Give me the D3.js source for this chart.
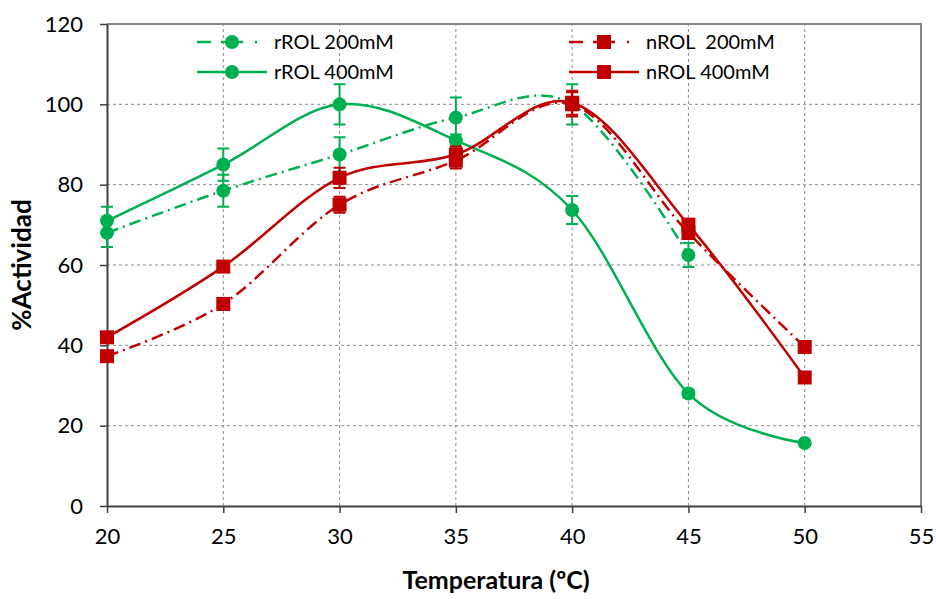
<!DOCTYPE html>
<html>
<head>
<meta charset="utf-8">
<script src="https://cdn.jsdelivr.net/npm/d3@7"></script>
<style>
  body { margin: 0; background: #fff; }
  text { font-family: Lato, "Open Sans", sans-serif; fill: #000; }
</style>
</head>
<body>
<svg id="chart"></svg>
<script>
const width = 936;
const height = 599;

// datos
const temps = [20, 25, 30, 35, 40, 45, 50];
const rROL200 = [68, 78.5, 87.5, 96.7, 100, 62.5];
const rROL200Err = [3.5, 4, 4.3, 5, 5, 3];
const rROL400 = [71, 85, 100, 91, 73.7, 28, 15.7];
const rROL400Err = [3.5, 4, 5, 1.5, 3.5, 1, 0.5];
const nROL200 = [37.3, 50.3, 75, 86, 100, 68, 39.6];
const nROL200Err = [0.5, 0.5, 2, 2, 3, 1.5, 0.5];
const nROL400 = [42, 59.6, 81.7, 87.5, 100.4, 70, 32];
const nROL400Err = [0.5, 1, 2.5, 2, 3, 1.5, 0.5];
const xTicks = [20, 25, 30, 35, 40, 45, 50, 55];
const yTicks = [0, 20, 40, 60, 80, 100, 120];

const green = "#00B050";
const red = "#C00000";
const dashDot = "12,5,2,5";

const series = [
  { name: "rROL 200mM", values: rROL200, err: rROL200Err, color: green, marker: "circle", dash: dashDot },
  { name: "nROL  200mM", values: nROL200, err: nROL200Err, color: red, marker: "square", dash: dashDot },
  { name: "rROL 400mM", values: rROL400, err: rROL400Err, color: green, marker: "circle", dash: null },
  { name: "nROL 400mM", values: nROL400, err: nROL400Err, color: red, marker: "square", dash: null }
];

const margin = { left: 107, right: 15, top: 24, bottom: 93 };

const svg = d3.select("#chart").attr("width", width).attr("height", height);

const x = d3.scaleLinear().domain([20, 55]).range([margin.left, width - margin.right]);
const y = d3.scaleLinear().domain([0, 120]).range([height - margin.bottom, margin.top]);

// rejilla
svg.append("g")
  .selectAll("line")
  .data(xTicks.slice(1, -1))
  .enter()
  .append("line")
  .attr("x1", d => x(d)).attr("x2", d => x(d))
  .attr("y1", y(0)).attr("y2", y(120))
  .attr("stroke", "#8c8c8c")
  .attr("stroke-width", 1)
  .attr("stroke-dasharray", "3,3");

svg.append("g")
  .selectAll("line")
  .data(yTicks.slice(1, -1))
  .enter()
  .append("line")
  .attr("x1", x(20)).attr("x2", x(55))
  .attr("y1", d => y(d)).attr("y2", d => y(d))
  .attr("stroke", "#8c8c8c")
  .attr("stroke-width", 1)
  .attr("stroke-dasharray", "3,3");

// borde superior y derecho
svg.append("path")
  .attr("d", `M${x(20)},${y(120)}H${x(55)}V${y(0)}`)
  .attr("fill", "none")
  .attr("stroke", "#868686")
  .attr("stroke-width", 2);

// ejes
const xAxis = svg.append("g")
  .attr("transform", `translate(0,${y(0)})`)
  .call(d3.axisBottom(x).tickValues(xTicks).tickSize(7).tickPadding(15).tickSizeOuter(0));
const yAxis = svg.append("g")
  .attr("transform", `translate(${x(20)},0)`)
  .call(d3.axisLeft(y).tickValues(yTicks).tickSize(7).tickPadding(17).tickSizeOuter(0));

[xAxis, yAxis].forEach(a => {
  a.select(".domain").attr("stroke", "#404040").attr("stroke-width", 2);
  a.selectAll(".tick line").attr("stroke", "#404040").attr("stroke-width", 1.5);
  a.selectAll(".tick text").style("font-size", "22px").style("font-family", "Lato, sans-serif").attr("fill", "#000");
});

// títulos
svg.append("text")
  .attr("x", 496)
  .attr("y", 589)
  .attr("text-anchor", "middle")
  .style("font-size", "25px")
  .style("font-weight", "bold")
  .text("Temperatura (ºC)");

svg.append("text")
  .attr("transform", `translate(31,${(y(0) + y(120)) / 2}) rotate(-90)`)
  .attr("text-anchor", "middle")
  .style("font-size", "26px")
  .style("font-weight", "bold")
  .text("%Actividad");

const line = d3.line()
  .x(d => x(d.t))
  .y(d => y(d.v))
  .curve(d3.curveCardinal.tension(0));

function drawMarker(g, type, color, cx, cy) {
  if (type === "circle") {
    g.append("circle").attr("cx", cx).attr("cy", cy).attr("r", 7).attr("fill", color);
  } else {
    g.append("rect").attr("x", cx - 7).attr("y", cy - 7).attr("width", 14).attr("height", 14).attr("fill", color);
  }
}

series.forEach(s => {
  const pts = s.values.map((v, i) => ({ t: temps[i], v: v, e: s.err[i] }));
  const g = svg.append("g");

  g.append("path")
    .datum(pts)
    .attr("d", line)
    .attr("fill", "none")
    .attr("stroke", s.color)
    .attr("stroke-width", 2.5)
    .attr("stroke-dasharray", s.dash);

  // barras de error
  pts.forEach(p => {
    const xe = x(p.t);
    g.append("path")
      .attr("d", `M${xe},${y(p.v + p.e)}V${y(p.v - p.e)}M${xe - 6},${y(p.v + p.e)}H${xe + 6}M${xe - 6},${y(p.v - p.e)}H${xe + 6}`)
      .attr("fill", "none")
      .attr("stroke", s.color)
      .attr("stroke-width", 2);
    drawMarker(g, s.marker, s.color, xe, y(p.v));
  });
});

// leyenda
const legendPos = [
  { lx: 197, ly: 42 },
  { lx: 569, ly: 42 },
  { lx: 197, ly: 72 },
  { lx: 569, ly: 72 }
];

series.forEach((s, i) => {
  const p = legendPos[i];
  const lg = svg.append("g");
  if (s.dash) {
    lg.append("path")
      .attr("d", `M${p.lx},${p.ly}h14M${p.lx + 24},${p.ly}h22M${p.lx + 58},${p.ly}h2`)
      .attr("stroke", s.color).attr("stroke-width", 2.5);
  } else {
    lg.append("line")
      .attr("x1", p.lx).attr("x2", p.lx + 70)
      .attr("y1", p.ly).attr("y2", p.ly)
      .attr("stroke", s.color).attr("stroke-width", 2.5);
  }
  drawMarker(lg, s.marker, s.color, p.lx + 35, p.ly);
  lg.append("text")
    .attr("x", p.lx + 77)
    .attr("y", p.ly + 7)
    .style("font-size", "20px")
    .style("white-space", "pre")
    .attr("xml:space", "preserve")
    .text(s.name);
});
</script>
</body>
</html>
